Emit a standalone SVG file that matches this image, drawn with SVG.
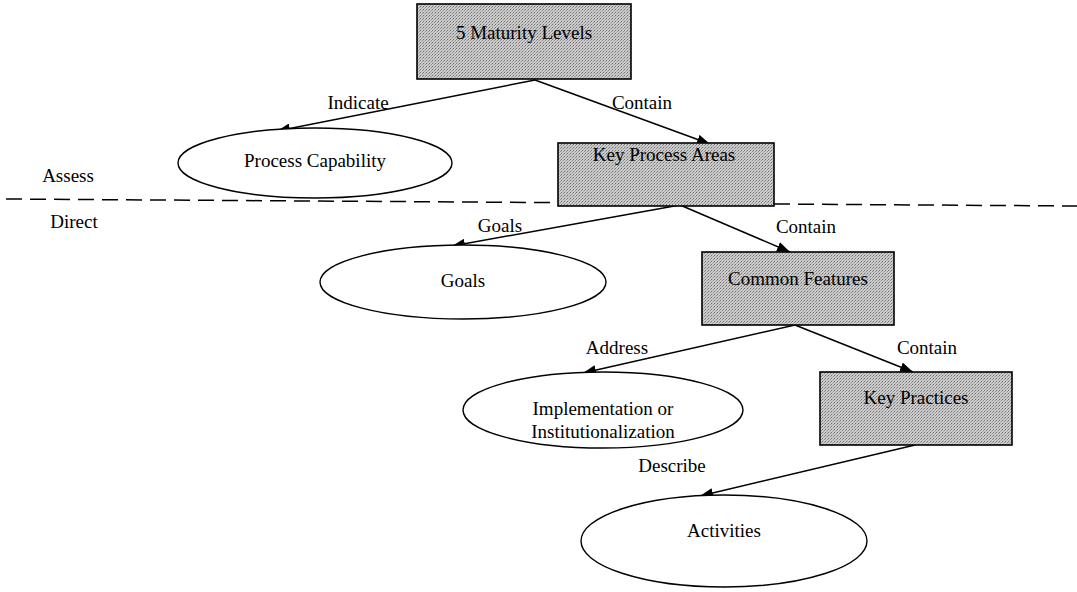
<svg xmlns="http://www.w3.org/2000/svg" width="1077" height="592" viewBox="0 0 1077 592">
<defs>
<pattern id="dots" width="3" height="3" patternUnits="userSpaceOnUse">
<rect width="3" height="3" fill="#cdcdcd"/>
<rect width="1" height="1" fill="#6e6e6e"/>
<rect x="2" y="1" width="1" height="1" fill="#8e8e8e"/>
<rect x="1" y="2" width="1" height="1" fill="#a8a8a8"/>
</pattern>
<marker id="arr" viewBox="0 0 13 10" refX="13" refY="5" markerWidth="13" markerHeight="10" markerUnits="userSpaceOnUse" orient="auto">
<path d="M0,0 L13,5 L0,10 z" fill="#000"/>
</marker>
<style>
.t{font-family:"Liberation Serif","Times New Roman",serif;font-size:19px;fill:#000;text-anchor:middle}
.box{fill:url(#dots);stroke:#000;stroke-width:1.6}
.ell{fill:#fff;stroke:#000;stroke-width:1.4}
.c{stroke:#000;stroke-width:1.5;fill:none;marker-end:url(#arr)}
</style>
</defs>
<rect width="1077" height="592" fill="#fff"/>
<line x1="6" y1="199" x2="1077" y2="206" stroke="#000" stroke-width="1.5" stroke-dasharray="16 8"/>
<text class="t" x="68" y="182">Assess</text>
<text class="t" x="74" y="228">Direct</text>
<g id="connectors">
<line class="c" x1="535" y1="80" x2="277" y2="131"/>
<line class="c" x1="535" y1="80" x2="710" y2="144"/>
<line class="c" x1="680" y1="205" x2="452" y2="246"/>
<line class="c" x1="680" y1="205" x2="790" y2="252"/>
<line class="c" x1="795" y1="325" x2="583" y2="373"/>
<line class="c" x1="795" y1="325" x2="913" y2="372"/>
<line class="c" x1="915" y1="445" x2="700" y2="496"/>
<text class="t" x="358" y="109">Indicate</text>
<text class="t" x="642" y="109">Contain</text>
<text class="t" x="500" y="232">Goals</text>
<text class="t" x="806" y="233">Contain</text>
<text class="t" x="617" y="354">Address</text>
<text class="t" x="927" y="354">Contain</text>
<text class="t" x="672" y="472">Describe</text>
</g>
<g id="maturity"><rect class="box" x="417" y="4" width="214" height="75"/><text class="t" x="524" y="39">5 Maturity Levels</text></g>
<g id="capability"><ellipse class="ell" cx="315" cy="163" rx="137" ry="35"/><text class="t" x="315" y="167">Process Capability</text></g>
<g id="kpa"><rect class="box" x="558" y="143" width="216" height="63"/><text class="t" x="664" y="161">Key Process Areas</text></g>
<g id="goals"><ellipse class="ell" cx="463" cy="282" rx="143" ry="37"/><text class="t" x="463" y="287">Goals</text></g>
<g id="cf"><rect class="box" x="702" y="252" width="192" height="73"/><text class="t" x="798" y="285">Common Features</text></g>
<g id="impl"><ellipse class="ell" cx="603" cy="410" rx="140" ry="38"/><text class="t" x="603" y="415">Implementation or</text><text class="t" x="603" y="438">Institutionalization</text></g>
<g id="kp"><rect class="box" x="820" y="372" width="192" height="73"/><text class="t" x="916" y="404">Key Practices</text></g>
<g id="activities"><ellipse class="ell" cx="724" cy="541" rx="143" ry="46"/><text class="t" x="724" y="537">Activities</text></g>
</svg>
